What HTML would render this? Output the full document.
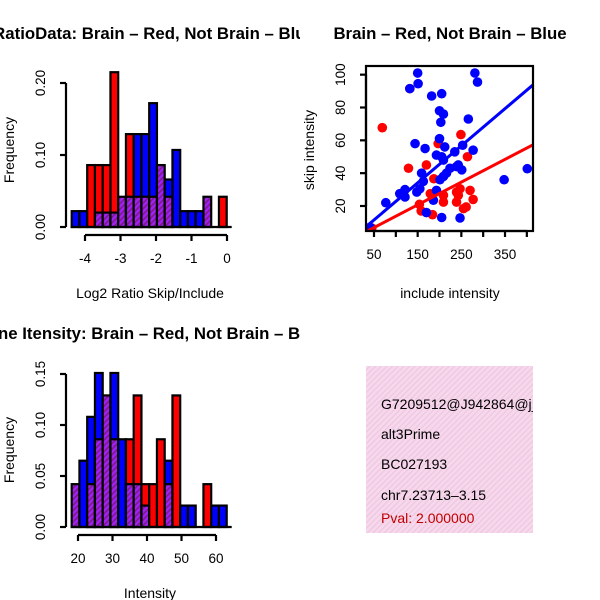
<!DOCTYPE html>
<html><head><meta charset="utf-8"><style>
body{margin:0;background:#fff}
svg{display:block;font-family:"Liberation Sans",sans-serif}
</style></head><body>
<svg id="c" width="600" height="600" xmlns="http://www.w3.org/2000/svg">
<defs>
<pattern id="hatch" width="4" height="4" patternUnits="userSpaceOnUse" patternTransform="rotate(45)">
<rect width="4" height="4" fill="#a020f0"/><rect width="1.5" height="4" fill="#7a1a8a"/></pattern>
<pattern id="pinkhatch" width="4" height="4" patternUnits="userSpaceOnUse" patternTransform="rotate(45)">
<rect width="4" height="4" fill="#f7d6ee"/><rect width="1" height="4" fill="#e8c8d8"/></pattern>
<clipPath id="leftclip"><rect x="0" y="0" width="300" height="600"/></clipPath>
</defs>
</svg>
<script>
// Top histogram data (20 bins): main color and height, purple overlap
const ratioColors = ["b","b","r","r","r","r","p","r","b","b","b","p","b","b","b","b","b","p","n","r"];
const ratioMain = [0.022,0.022,0.086,0.086,0.086,0.215,0.042,0.129,0.129,0.129,0.172,0.086,0.066,0.107,0.022,0.022,0.022,0.042,0,0.042];
const ratioPurple = [0,0,0,0.02,0.02,0.02,0.042,0.042,0.042,0.042,0.042,0.086,0.042,0,0,0,0,0.042,0,0];
const ratioXTicks = [-4,-3,-2,-1,0];
const ratioYTicks = ["0.00","0.10","0.20"];
// Bottom histogram data
const intColors = ["p","b","b","b","p","b","b","r","r","r","r","r","b","r","b","b","n","r","b","b"];
const intMain = [0.042,0.065,0.108,0.151,0.129,0.151,0.086,0.086,0.129,0.042,0.042,0.086,0.065,0.129,0.021,0.021,0,0.042,0.021,0.021];
const intPurple = [0.042,0,0.042,0.086,0.129,0.086,0,0.042,0.042,0.021,0,0,0.042,0,0,0,0,0,0,0];
const intXTicks = [20,30,40,50,60];
const intYTicks = ["0.00","0.05","0.10","0.15"];
// Scatter data
const blueX = [150,132,151,281,287,182,205,200,209,203,266,144,167,200,212,253,277,193,205,209,235,224,239,251,243,216,209,201,163,159,121,109,121,148,155,193,186,170,205,247,77,348,401,41];
const blueY = [101,91.5,94.5,101,95.5,87,88.4,78,76,71,73,58,55,61,56,57,54,51,50,48,53,43,44,42,45,40,38,36,35,40,30,27.5,25.5,28.5,30.5,29.5,23.5,16,13,12.7,22,36,42.7,7];
const redX = [69,132,129,170,197,249,264,187,179,154,158,184,209,209,239,247,243,239,255,261,270,277,45];
const redY = [67.7,91.5,43,45,58,63.5,50,36.6,27.5,21,17,14.7,26.5,22.4,28.5,30.5,26.5,22.4,18.4,19.4,29.5,24,6.6];
const blueFit = [0.2,0.226];
const redFit = [-0.1,0.1385];
const scXTicks = [50,100,150,200,250,300,350,400];
const scXLabels = [50,150,250,350];
const scYTicks = [20,40,60,80,100];

const svg = document.getElementById('c');
const NS = "http://www.w3.org/2000/svg";
function mk(tag, attrs, parent){const e=document.createElementNS(NS,tag);for(const k in attrs)e.setAttribute(k,attrs[k]);(parent||svg).appendChild(e);return e;}
function txt(s,x,y,attrs){const e=mk('text',Object.assign({x:x,y:y},attrs||{}));e.textContent=s;return e;}
const col={b:"#0000ff",r:"#ff0000",p:"url(#hatch)"};

function hist(colors, main, purple, x0, bw, y0, scale, name){
  const g=mk('g',{});
  
  
  for(let i=0;i<main.length;i++){
    if(colors[i]==="n"||main[i]<=0) continue;
    const h=main[i]*scale;
    const r=mk('rect',{x:x0+i*bw,y:y0-h,width:bw,height:h,fill:col[colors[i]],stroke:"#000","stroke-width":2.2},g);
    
    
    if(purple[i]>0 && colors[i]!=="p"){
      const ph=purple[i]*scale;
      const p=mk('rect',{x:x0+i*bw,y:y0-ph,width:bw,height:ph,fill:"url(#hatch)",stroke:"#000","stroke-width":2.2},g);
      
      
    }
  }
  mk('line',{x1:x0-1,x2:x0+main.length*bw+5,y1:y0,y2:y0,stroke:"#000","stroke-width":2.2},g);
}
function yaxis(x, yFn, ticks, vals, name){
  const g=mk('g',{});
  
  
  mk('line',{x1:x,x2:x,y1:yFn(vals[vals.length-1]),y2:yFn(vals[0]),stroke:"#000","stroke-width":2.2},g);
  vals.forEach((v,i)=>{const y=yFn(v);mk('line',{x1:x,x2:x-6,y1:y,y2:y,stroke:"#000","stroke-width":2.2},g);
    if(ticks[i]!==null){const t=txt(ticks[i],x-21,y,{"font-size":13.5,"text-anchor":"middle",transform:`rotate(-90 ${x-21} ${y})`});g.appendChild(t);}});
}
function xaxis(y, xFn, vals, labels, name){
  const g=mk('g',{});
  
  
  mk('line',{x1:xFn(vals[0]),x2:xFn(vals[vals.length-1]),y1:y,y2:y,stroke:"#000","stroke-width":2.2},g);
  vals.forEach(v=>{const x=xFn(v);mk('line',{x1:x,x2:x,y1:y,y2:y+6,stroke:"#000","stroke-width":2.2},g);
    if(labels.indexOf(v)>=0){const t=txt(String(v),x,y+28,{"font-size":13.5,"text-anchor":"middle"});g.appendChild(t);}});
}

// Top-left histogram
const rY=v=>227-v*720;
hist(ratioColors,ratioMain,ratioPurple,71.7,7.75,227,720,'ratio-histogram');
yaxis(66,rY,ratioYTicks,[0,0.1,0.2],'ratio-y-axis');
const rX=v=>227+v*35.5;
xaxis(235,rX,ratioXTicks,ratioXTicks,'ratio-x-axis');
let t;
t=txt("RatioData: Brain – Red, Not Brain – Blue",154,39,{"font-size":16.8,"font-weight":"bold","text-anchor":"middle","clip-path":"url(#leftclip)"});

t=txt("Log2 Ratio Skip/Include",150,298,{"font-size":14,"text-anchor":"middle"});

t=txt("Frequency",14,150,{"font-size":14,"text-anchor":"middle",transform:"rotate(-90 14 150)"});


// Bottom-left histogram
const iY=v=>527-v*1020;
hist(intColors,intMain,intPurple,71.7,7.75,527,1020,'intensity-histogram');
yaxis(66,iY,intYTicks,[0,0.05,0.1,0.15],'intensity-y-axis');
const iX=v=>78+(v-20)*3.45;
xaxis(535,iX,intXTicks,intXTicks,'intensity-x-axis');
t=txt("Gene Itensity: Brain – Red, Not Brain – Blue",150,339,{"font-size":16.8,"font-weight":"bold","text-anchor":"middle","clip-path":"url(#leftclip)"});

t=txt("Intensity",150,598,{"font-size":14,"text-anchor":"middle"});

t=txt("Frequency",14,450,{"font-size":14,"text-anchor":"middle",transform:"rotate(-90 14 450)"});


// Scatter
const sx=v=>374+(v-50)*0.4367;
const sy=v=>206-(v-20)*1.6417;
const clip=mk('clipPath',{id:"scclip"});mk('rect',{x:366,y:66,width:167,height:165},clip);
const sg=mk('g',{"clip-path":"url(#scclip)"});


redX.forEach((v,i)=>{const c=mk('circle',{cx:sx(v),cy:sy(redY[i]),r:4.8,fill:"#ff0000"},sg);
  });
blueX.forEach((v,i)=>{const c=mk('circle',{cx:sx(v),cy:sy(blueY[i]),r:4.8,fill:"#0000ff"},sg);
  });
[[blueFit,"#0000ff","not-brain-fit-line"],[redFit,"#ff0000","brain-fit-line"]].forEach(([f,c,n])=>{
  const l=mk('line',{x1:sx(20),y1:sy(f[0]+f[1]*20),x2:sx(430),y2:sy(f[0]+f[1]*430),stroke:c,"stroke-width":3},sg);
  });
mk('rect',{x:366,y:66,width:167,height:165,fill:"none",stroke:"#000","stroke-width":2.2});
yaxis(366,sy,scYTicks.map(String),scYTicks,'scatter-y-axis');
xaxis(231,sx,scXTicks,scXLabels,'scatter-x-axis');
t=txt("Brain – Red, Not Brain – Blue",450,39,{"font-size":16.8,"font-weight":"bold","text-anchor":"middle"});

t=txt("include intensity",450,298,{"font-size":14,"text-anchor":"middle"});

t=txt("skip intensity",314,150,{"font-size":14,"text-anchor":"middle",transform:"rotate(-90 314 150)"});


// Info box
const ib=mk('g',{});


const ic=mk('clipPath',{id:"ibclip"});mk('rect',{x:366,y:366,width:167,height:167},ic);
mk('rect',{x:366,y:366,width:167,height:167,fill:"url(#pinkhatch)"},ib);
const ig=mk('g',{"clip-path":"url(#ibclip)"},ib);
[["G7209512@J942864@j_",409,"#000"],["alt3Prime",439,"#000"],["BC027193",469,"#000"],["chr7.23713–3.15",500,"#000"],["Pval: 2.000000",523,"#c00000"]].forEach(([s,y,c])=>{
  const e=txt(s,381,y,{"font-size":14,fill:c});ig.appendChild(e);
  });
</script>
</body></html>
